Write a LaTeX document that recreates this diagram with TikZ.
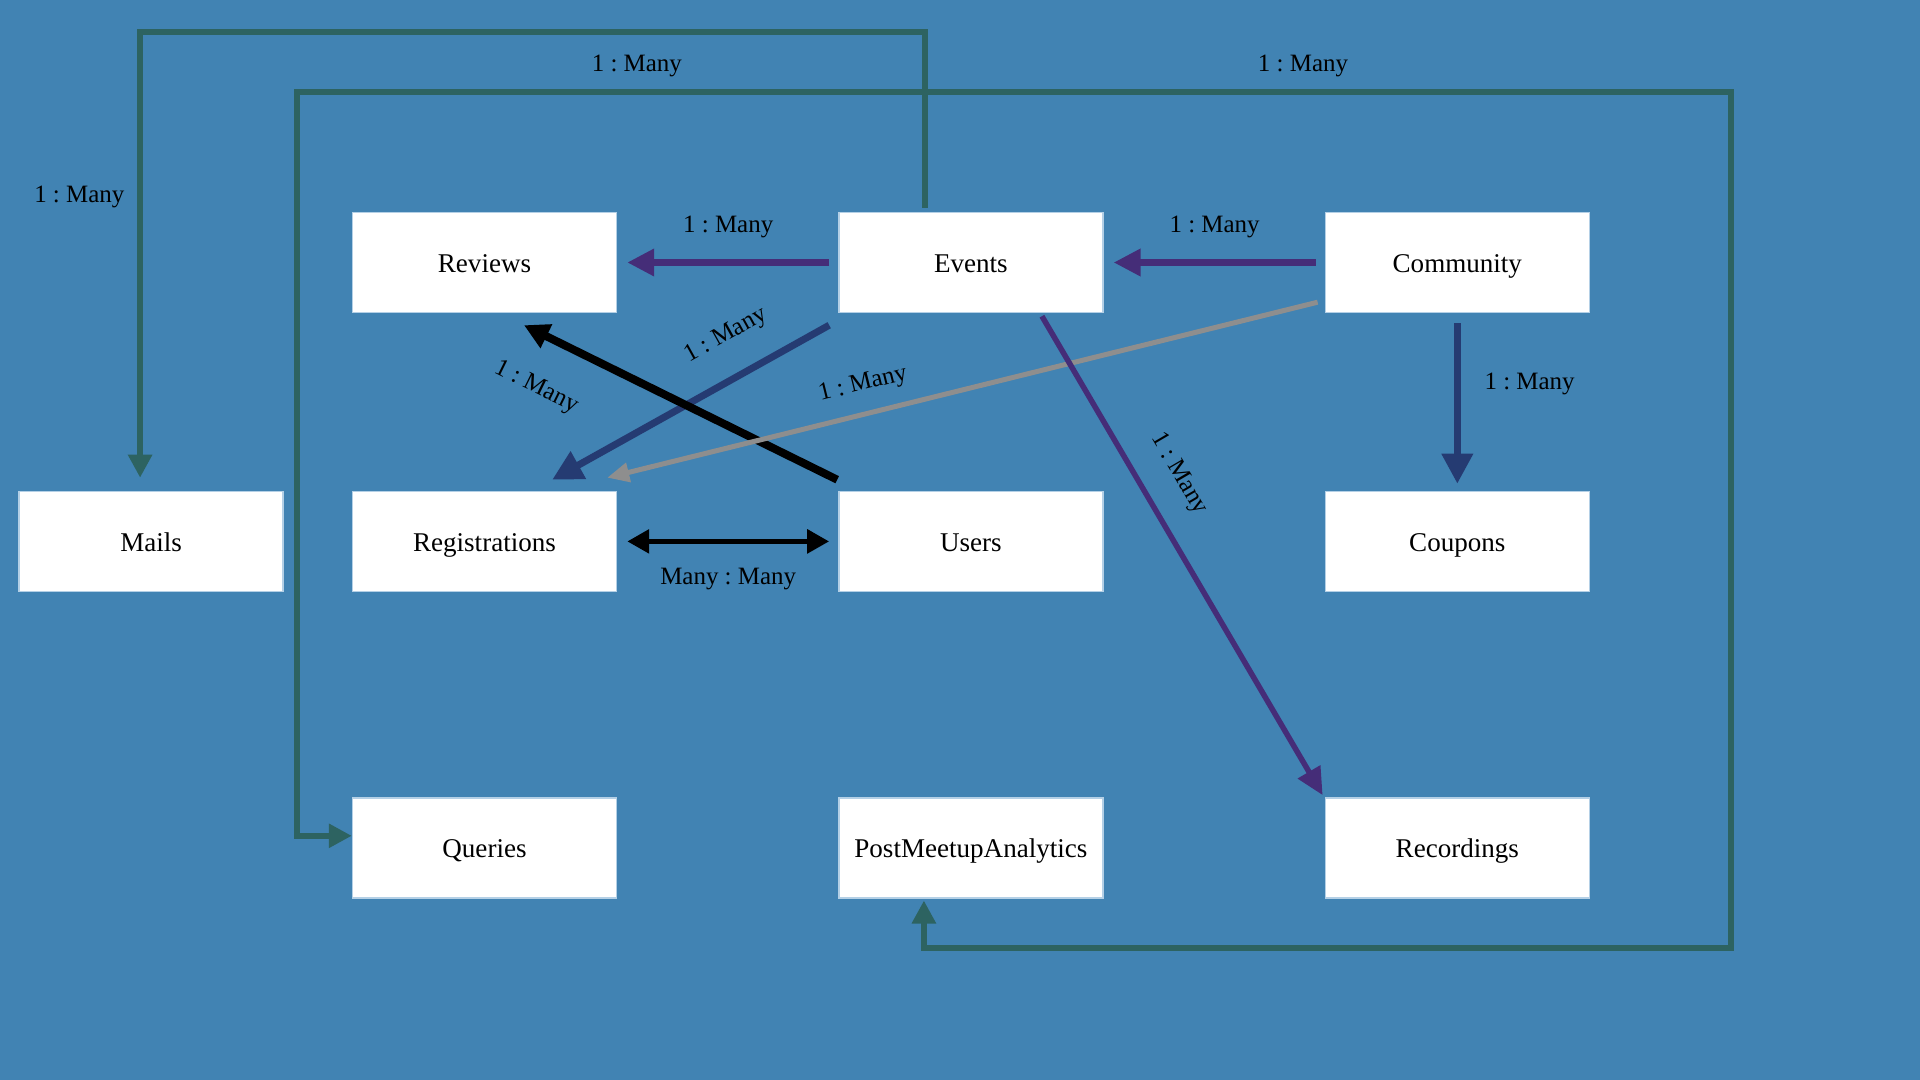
\documentclass[tikz,border=0pt]{standalone}
\usepackage{fontspec}
\setmainfont{Liberation Serif}
\usepackage{tikz}
\usetikzlibrary{positioning,arrows.meta}
\definecolor{bgblue}{HTML}{4183B3}
\definecolor{boxedge}{HTML}{B4D0E6}
\definecolor{linkgreen}{HTML}{2D6361}
\definecolor{linkpurple}{HTML}{452D78}
\definecolor{linkblue}{HTML}{253B72}
\definecolor{linkgray}{HTML}{8E8E8E}
\newcommand{\entityfont}{\fontsize{7.7}{9}\selectfont}
\newcommand{\relfont}{\fontsize{7.1}{8.5}\selectfont\frenchspacing}
\tikzset{
    entity/.style={
        draw=boxedge, fill=white, line width=0.4pt,
        minimum width=2.64cm, minimum height=1cm,
        text height=1.5ex, text depth=0.3ex,
        font=\entityfont, align=center
    },
    rel/.style={font=\relfont, text=black, inner sep=2.2pt},
    purplelink/.style={draw=linkpurple, line width=0.07cm, -{Triangle[length=0.27cm, width=0.26cm]}},
    purplediag/.style={draw=linkpurple, line width=0.055cm, -{Triangle[length=0.27cm, width=0.25cm]}},
    bluelink/.style={draw=linkblue, line width=0.07cm, -{Triangle[length=0.30cm, width=0.30cm]}},
    graylink/.style={draw=linkgray, line width=0.05cm, -{Triangle[length=0.22cm, width=0.19cm]}},
    blacklink/.style={draw=black, line width=0.08cm, -{Triangle[length=0.25cm, width=0.25cm]}},
    blackboth/.style={draw=black, line width=0.055cm, {Triangle[length=0.22cm, width=0.23cm]}-{Triangle[length=0.22cm, width=0.23cm]}},
    greenlink/.style={draw=linkgreen, line width=0.06cm, -{Triangle[length=0.23cm, width=0.23cm]}},
    greenboth/.style={draw=linkgreen, line width=0.06cm, {Triangle[length=0.23cm, width=0.23cm]}-{Triangle[length=0.23cm, width=0.23cm]}},
}

\begin{document}
\begin{tikzpicture}
    \fill[bgblue] (0,0) rectangle (19.2,-10.8);

    % tables
    \node[entity] (reviews) at (4.845,-2.625) {Reviews};
    \node[entity, right=2.21cm of reviews] (events) {Events};
    \node[entity, right=2.21cm of events] (community) {Community};
    \node[entity, below=1.775cm of reviews] (registrations) {Registrations};
    \node[entity, left=0.68cm of registrations] (mails) {Mails};
    \node[entity, right=2.21cm of registrations] (users) {Users};
    \node[entity, right=2.21cm of users] (coupons) {Coupons};
    \node[entity, below=2.05cm of registrations] (queries) {Queries};
    \node[entity, right=2.21cm of queries] (pma) {PostMeetupAnalytics};
    \node[entity, right=2.21cm of pma] (recordings) {Recordings};

    \coordinate (mailcorner) at ([xshift=-0.11cm]mails.north |- 0,-0.32);
    \coordinate (loopnw) at (2.97,-0.925);
    \coordinate (loopse) at (17.31,-9.48);

    % relations
    \draw[purplelink] ([xshift=-0.09cm]events.west) -- ([xshift=0.10cm]reviews.east)
        node[rel, midway, above=0.13cm] {1 : Many};
    \draw[purplelink] ([xshift=-0.09cm]community.west) -- ([xshift=0.10cm]events.east)
        node[rel, midway, above=0.13cm] {1 : Many};
    \draw[bluelink] ([shift={(-0.09,-0.12)}]events.south west) -- ([shift={(-0.65,0.11)}]registrations.north east)
        node[rel, pos=0.30, sloped, above=0.19cm] {1 : Many};
    \draw[blacklink] ([shift={(-0.01,0.11)}]users.north west) -- ([shift={(0.395,-0.12)}]reviews.south)
        node[rel, pos=0.89, sloped, below=0.28cm] {1 : Many};
    \draw[graylink] ([shift={(-0.07,0.11)}]community.south west) -- ([shift={(-0.10,0.13)}]registrations.north east)
        node[rel, pos=0.63, sloped, above=0.08cm] {1 : Many};
    \draw[bluelink] ([yshift=-0.10cm]community.south) -- ([yshift=0.07cm]coupons.north)
        node[rel, pos=0.38, right=0.16cm] {1 : Many};
    \draw[purplediag] ([shift={(0.71,-0.03)}]events.south) -- ([shift={(-0.02,0.02)}]recordings.north west)
        node[rel, pos=0.37, sloped, above=0.17cm] {1 : Many};
    \draw[blackboth] ([xshift=0.10cm]registrations.east) -- ([xshift=-0.09cm]users.west)
        node[rel, midway, below=0.16cm] {Many : Many};
    \draw[greenlink] ([shift={(-0.46,0.04)}]events.north) |- (mailcorner) -- ([shift={(-0.11,0.13)}]mails.north)
        node[rel, pos=0.37, left=0.05cm] {1 : Many};
    \draw[greenboth] ([yshift=0.12cm]queries.west) -| (loopnw) -- (loopnw -| loopse)
        node[rel, pos=0.237, above=0.05cm] {1 : Many}
        node[rel, pos=0.7015, above=0.05cm] {1 : Many}
        -- (loopse) -| ([shift={(-0.47,-0.02)}]pma.south);
\end{tikzpicture}
\end{document}
